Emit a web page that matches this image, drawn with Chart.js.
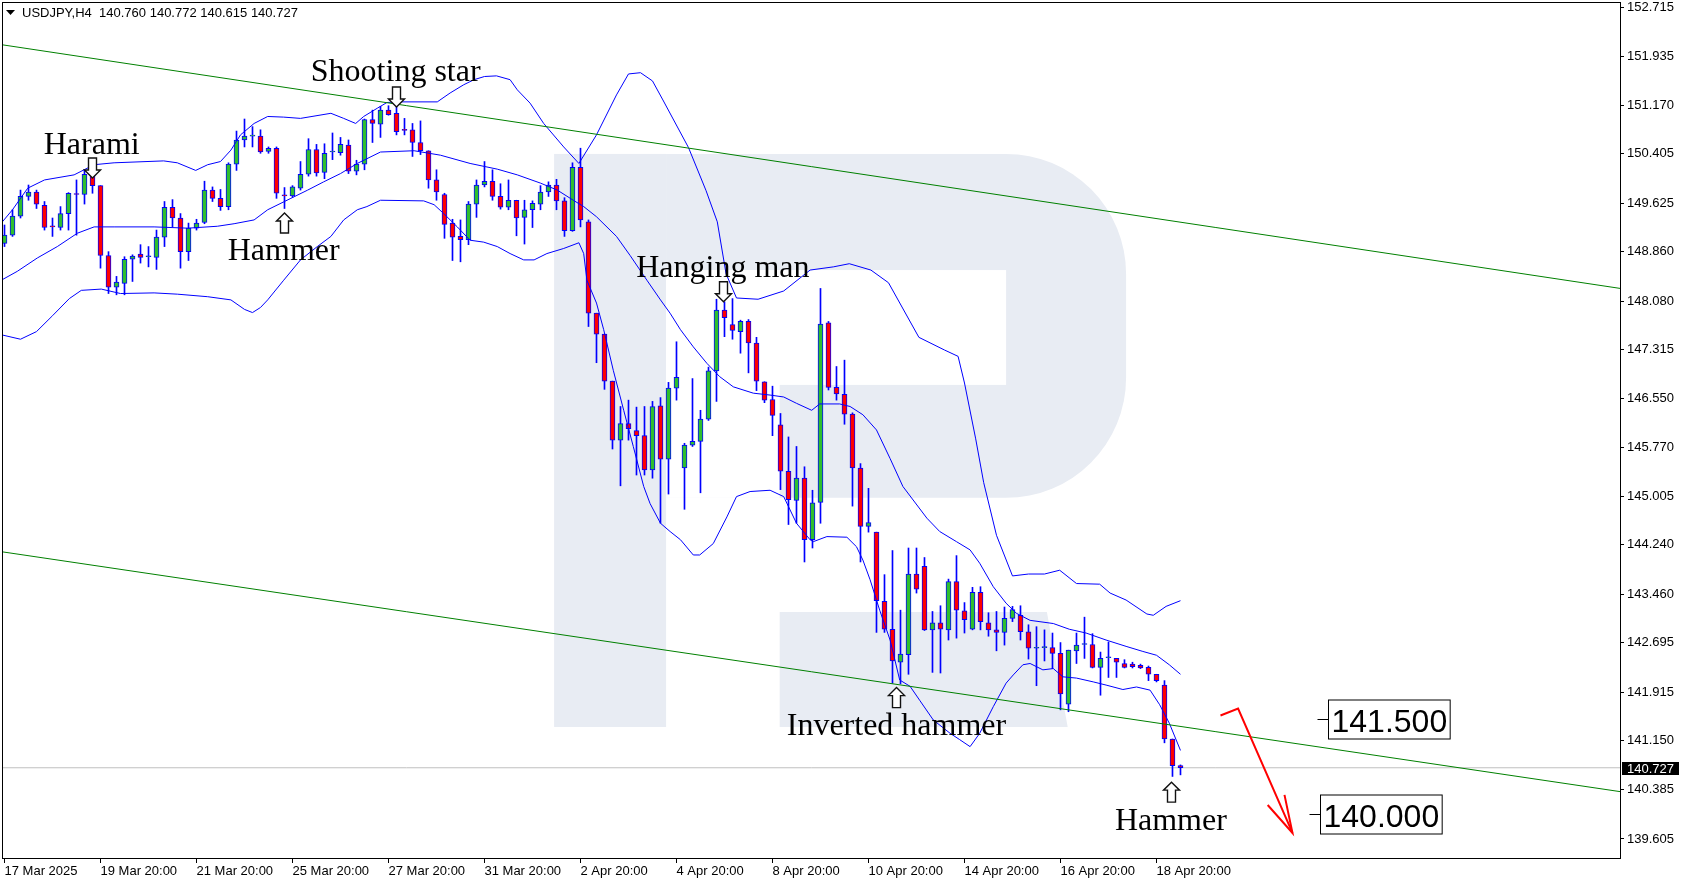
<!DOCTYPE html>
<html>
<head>
<meta charset="utf-8">
<script src="https://cdn.jsdelivr.net/npm/chart.js@4.4.1/dist/chart.umd.min.js"></script>
<style>
  html, body { margin: 0; padding: 0; background: #fff; overflow: hidden; }
  #wrap { width: 1684px; height: 882px; }
</style>
</head>
<body>
<div id="wrap"><canvas id="chart"></canvas></div>
<script>
// USDJPY H4, bar 0 = 17 Mar 20:00, last bar = 21 Apr 08:00
const opens = [
  148.99,149.12,149.42,149.73,149.80,149.59,149.26,149.24,149.46,149.77,
  149.76,150.07,149.90,148.80,148.30,148.36,148.74,148.82,148.78,148.77,
  149.09,149.56,149.39,148.86,149.23,149.32,149.83,149.70,149.57,150.24,
  150.62,150.68,150.68,150.44,150.49,149.75,149.74,149.86,150.08,150.47,
  150.11,150.43,150.42,150.54,150.13,150.24,150.94,150.87,151.09,151.04,
  150.78,150.78,150.58,150.45,149.99,149.76,149.31,149.10,149.05,149.61,
  149.91,149.97,149.73,149.56,149.67,149.40,149.52,149.61,149.80,149.91,
  149.66,149.19,150.19,149.33,147.89,147.56,146.82,145.89,146.15,146.04,
  145.96,145.42,146.43,145.59,146.71,145.45,145.81,145.87,146.22,146.98,
  147.94,147.71,147.60,147.76,147.42,146.81,146.53,146.13,145.40,144.94,
  145.29,144.32,144.91,147.74,146.72,146.61,146.30,145.45,144.53,144.44,
  143.35,142.91,142.39,142.51,143.78,143.90,142.90,143.01,142.90,143.66,
  143.20,142.91,143.49,143.01,142.90,142.86,143.08,143.13,142.87,142.61,
  142.62,142.62,142.53,141.73,142.57,142.67,142.67,142.31,142.46,142.45,
  142.37,142.36,142.34,142.31,142.20,142.03,141.18,140.760
];
const highs = [
  149.28,149.52,149.83,149.91,149.83,149.65,149.39,149.57,149.79,149.99,
  150.15,150.15,149.90,148.86,148.47,148.78,148.81,148.97,148.94,149.20,
  149.65,149.68,149.46,149.31,149.37,149.97,149.88,149.84,150.26,150.76,
  150.95,150.83,150.78,150.51,150.51,149.87,149.90,150.28,150.64,150.55,
  150.56,150.73,150.66,150.62,150.30,150.95,151.09,151.15,151.16,151.18,
  150.96,150.88,150.92,150.45,150.15,149.78,149.37,149.36,149.65,149.99,
  150.28,150.15,149.93,149.99,149.67,149.67,149.66,149.90,149.96,150.00,
  149.71,150.26,150.49,149.36,147.89,147.56,146.82,146.42,146.52,146.41,
  146.42,146.50,146.56,146.80,147.44,145.84,146.86,146.36,147.04,148.11,
  148.07,148.12,147.78,147.79,147.51,146.81,146.74,146.31,145.94,145.79,
  145.47,145.10,148.28,147.76,147.05,147.15,146.32,145.52,145.13,144.44,
  143.77,144.15,143.21,144.19,144.19,144.04,143.19,143.28,143.70,144.07,
  143.33,143.57,143.58,143.17,143.19,143.26,143.27,143.28,142.98,142.95,
  142.90,142.85,142.70,142.58,142.85,143.10,142.84,142.55,142.71,142.45,
  142.43,142.39,142.36,142.33,142.20,142.10,141.18,140.772
];
const lows = [
  148.94,149.10,149.39,149.67,149.54,149.20,149.10,149.20,149.20,149.12,
  149.61,149.78,148.60,148.20,148.18,148.18,148.39,148.68,148.62,148.58,
  148.94,149.25,148.60,148.72,149.20,149.30,149.65,149.51,149.52,150.14,
  150.51,150.51,150.41,150.41,149.70,149.54,149.72,149.83,150.05,150.05,
  150.01,150.31,150.38,150.09,150.07,150.15,150.58,150.66,151.01,150.70,
  150.70,150.36,150.39,149.86,149.67,149.07,148.72,148.70,148.97,149.40,
  149.88,149.67,149.53,149.52,149.11,148.98,149.24,149.52,149.73,149.52,
  149.10,149.18,149.25,147.68,147.11,146.69,145.75,145.17,145.89,145.34,
  145.34,145.29,144.58,145.04,146.52,144.80,145.79,145.06,146.20,146.50,
  147.52,147.48,147.26,146.95,146.67,146.48,145.96,145.11,144.56,144.58,
  143.97,144.19,144.58,146.68,146.52,146.14,144.85,143.97,144.44,142.86,
  142.86,142.06,142.05,142.20,143.48,142.89,142.23,142.22,142.74,142.77,
  142.85,142.90,142.90,142.80,142.57,142.66,143.03,142.74,142.44,142.02,
  142.41,142.29,141.64,141.61,142.37,142.45,142.30,141.87,142.15,142.15,
  142.30,142.30,142.29,142.10,142.08,141.12,140.59,140.615
];
const closes = [
  149.12,149.42,149.73,149.80,149.61,149.24,149.25,149.46,149.78,149.76,
  150.08,149.90,148.80,148.30,148.38,148.74,148.79,148.77,148.78,149.09,
  149.56,149.39,148.86,149.23,149.31,149.83,149.70,149.57,150.24,150.62,
  150.68,150.69,150.43,150.49,149.78,149.74,149.88,150.08,150.47,150.10,
  150.41,150.43,150.55,150.13,150.24,150.94,150.88,151.09,151.02,150.75,
  150.77,150.58,150.45,149.99,149.80,149.29,149.09,149.05,149.61,149.91,
  149.97,149.73,149.56,149.67,149.39,149.52,149.62,149.80,149.91,149.66,
  149.19,150.19,149.36,147.89,147.56,146.82,145.89,146.15,146.07,145.96,
  145.42,146.42,145.59,146.71,146.88,145.81,145.87,146.22,146.98,147.94,
  147.82,147.62,147.76,147.42,146.82,146.52,146.28,145.40,144.95,145.29,
  144.32,144.90,147.72,146.72,146.62,146.30,145.45,144.53,144.59,143.36,
  142.91,142.41,142.52,143.78,143.54,142.90,143.01,142.91,143.66,143.21,
  143.06,143.49,143.03,142.90,142.86,143.08,143.22,142.87,142.61,142.61,
  142.62,142.53,141.89,142.58,142.66,142.68,142.31,142.45,142.46,142.39,
  142.31,142.32,142.30,142.20,142.10,141.18,140.76,140.727
];

const xTickIdx = [0,12,24,36,48,60,72,84,96,108,120,132,144];
const xTickLabels = ['17 Mar 2025','19 Mar 20:00','21 Mar 20:00','25 Mar 20:00','27 Mar 20:00',
  '31 Mar 20:00','2 Apr 20:00','4 Apr 20:00','8 Apr 20:00','10 Apr 20:00','14 Apr 20:00',
  '16 Apr 20:00','18 Apr 20:00'];
const yTicks = [152.715,151.935,151.170,150.405,149.625,148.860,148.080,147.315,146.550,
  145.770,145.005,144.240,143.460,142.695,141.915,141.150,140.385,139.605];

// Bollinger bands as [bar, price]
const bbUpper = [[-0.4,149.31],[1,149.52],[2.9,149.86],[5,149.99],[8.7,150.07],[11.2,150.23],[13.7,150.26],
  [19.9,150.29],[21.6,150.26],[23.9,150.14],[25.4,150.23],[27,150.28],[28.3,150.46],[29.5,150.70],[31.2,150.88],
  [32.9,150.99],[34.9,150.98],[37,150.96],[40.8,151.04],[42.4,150.96],[43.9,150.88],[44.9,150.99],[46.6,151.12],
  [47.8,151.21],[49.1,151.22],[54.1,151.22],[55.7,151.36],[57.4,151.49],[58.7,151.57],[60,151.62],[61.5,151.63],
  [63.2,151.57],[64.1,151.41],[65.7,151.20],[67.4,150.88],[69.9,150.51],[71.8,150.25],[74,150.70],[76.5,151.33],
  [78,151.66],[79.5,151.68],[81,151.55],[82.3,151.25],[85.5,150.50],[87.7,149.82],[89.1,149.33],[90.2,148.51],
  [91.5,148.13],[94.2,148.11],[97.4,148.24],[100.7,148.57],[103.6,148.62],[105.6,148.67],[108.3,148.57],
  [110.5,148.37],[114.3,147.51],[117.5,147.31],[119.2,147.21],[120,146.79],[121.4,145.91],[122.4,145.22],
  [124,144.39],[126,143.75],[128,143.78],[130,143.78],[131.9,143.84],[134,143.63],[136.9,143.62],[138.2,143.48],
  [140.2,143.37],[142.8,143.15],[143.6,143.13],[145.2,143.27],[147,143.36]];
const bbMiddle = [[-0.4,148.41],[1.6,148.55],[4.1,148.76],[6.6,148.94],[9.1,149.15],[11.2,149.25],[13.7,149.25],
  [18.7,149.25],[22.9,149.23],[26.6,149.26],[28.7,149.30],[31.2,149.36],[32.9,149.52],[35.8,149.70],[37.9,149.83],
  [39.9,149.96],[42,150.09],[44.1,150.25],[47,150.43],[51.2,150.45],[54.5,150.38],[58.2,150.25],[61.6,150.16],
  [64.1,150.07],[67,149.94],[69.1,149.83],[71.1,149.67],[72.4,149.57],[74,149.41],[76.5,149.10],[78.2,148.80],
  [80.3,148.41],[82,148.10],[83.2,147.89],[84.5,147.63],[86.1,147.36],[87.8,147.10],[89.4,146.89],[91.1,146.73],
  [93.6,146.63],[95.7,146.60],[97.4,146.57],[99,146.47],[100.9,146.36],[101.9,146.46],[104.4,146.46],
  [105.7,146.42],[107.3,146.29],[109,146.05],[110.7,145.60],[112.3,145.16],[115.3,144.66],[116.9,144.45],
  [119,144.29],[120.7,144.16],[121.9,143.95],[123.6,143.58],[125.2,143.32],[126.5,143.16],[128.2,143.05],
  [131.1,143.00],[133.1,142.91],[135.2,142.85],[137.7,142.74],[140.2,142.64],[142.3,142.56],[144,142.50],
  [145.6,142.35],[147,142.20]];
const bbLower = [[-0.4,147.55],[2,147.48],[4,147.60],[6,147.85],[8.1,148.12],[9.6,148.25],[12.1,148.27],
  [14.5,148.20],[18.7,148.21],[21.6,148.19],[25.4,148.15],[28.3,148.10],[30,147.95],[31,147.90],[32,147.98],
  [32.9,148.10],[34.9,148.41],[37,148.73],[39.1,148.94],[40.8,149.10],[42.4,149.36],[44.1,149.52],[45.3,149.57],
  [47,149.67],[52.4,149.66],[53.7,149.60],[54.9,149.46],[56.6,149.25],[58.2,149.04],[59.9,149.01],[61.6,148.94],
  [63.2,148.83],[64.9,148.73],[66.2,148.73],[67.8,148.83],[69.9,148.91],[71.8,149.00],[72.4,148.83],
  [72.8,148.41],[74,148.05],[74.9,147.63],[76.1,146.99],[77.4,146.36],[78.6,145.79],[79.9,145.16],[80.7,144.89],
  [82,144.58],[83.2,144.45],[84.5,144.32],[86.1,144.08],[86.9,144.08],[88.6,144.26],[90.3,144.68],[91.5,145.00],
  [93.2,145.08],[95.7,145.10],[97.4,145.00],[99,144.58],[100.7,144.32],[101.1,144.29],[102.8,144.37],
  [105.3,144.36],[106.5,144.21],[107.3,144.00],[108.2,143.69],[109.4,143.21],[110.7,142.74],[111.9,142.11],
  [113.2,142.01],[114.4,141.79],[116.1,141.48],[118.2,141.27],[119.4,141.17],[120.7,141.06],[121.9,141.27],
  [123.6,141.69],[125.2,142.06],[126.1,142.19],[127.3,142.35],[128.2,142.37],[129.8,142.27],[131.1,142.29],
  [132.3,142.16],[134,142.14],[136.1,142.08],[137.7,142.03],[139.8,141.96],[141.5,142.00],[143.2,141.95],
  [144.4,141.72],[145.6,141.43],[147,141.00]];

// trend channel, last price, forecast arrow
const channelTop = [[-0.3,152.12],[202,148.28]];
const channelBottom = [[-0.3,144.13],[202,140.35]];
const lastPrice = 140.727;
const forecastPath = [[152.0,141.55],[154.2,141.66],[161.0,139.70]];
const forecastHead = [[157.9,140.14],[161.0,139.70],[160.0,140.30]];

// candle pattern notes: name, bar, text baseline price, arrow tip price, arrow direction
const noteNames = ['Harami','Shooting star','Hammer','Hanging man','Inverted hammer','Hammer'];
const noteBars = [10.9, 48.9, 34.9, 89.8, 111.5, 145.8];
const noteTextY = [150.40, 151.55, 148.73, 148.46, 141.24, 139.75];
const noteTipY = [150.02, 151.14, 149.47, 148.07, 141.99, 140.50];
const noteDir = ['down','down','up','down','up','up'];

// target levels
const levelNames = ['141.500','140.000'];
const levelValues = [141.5, 140.0];
const levelBars = [165.5, 164.4];

const BULL = '#2fbf2f', BEAR = '#ff0000', OUTLINE = '#0000ff';
const toXY = arr => arr.map(p => ({x: p[0], y: p[1]}));

const overlay = {
  id: 'overlay',
  beforeDatasetsDraw(chart) {
    const {ctx, scales: {x, y}} = chart;
    const X = v => x.getPixelForValue(v), Y = v => y.getPixelForValue(v);
    ctx.save();
    ctx.fillStyle = '#e8ecf3';
    // watermark letter
    ctx.fillRect(X(68.7), Y(150.40), X(82.7) - X(68.7), Y(141.37) - Y(150.40));
    ctx.beginPath();
    ctx.roundRect(X(82.7), Y(150.40), X(140.2) - X(82.7), Y(144.98) - Y(150.40), [0, 120, 120, 0]);
    ctx.fill();
    ctx.fillStyle = '#ffffff';
    ctx.fillRect(X(82.7), Y(148.57), X(125.2) - X(82.7), Y(146.76) - Y(148.57));
    ctx.fillRect(X(82.7), Y(148.57), X(96.9) - X(82.7), Y(144.98) - Y(148.57));
    ctx.fillStyle = '#e8ecf3';
    ctx.beginPath();
    ctx.moveTo(X(96.9), Y(143.18));
    ctx.lineTo(X(130.3), Y(143.18));
    ctx.lineTo(X(132.9), Y(141.37));
    ctx.lineTo(X(96.9), Y(141.37));
    ctx.closePath();
    ctx.fill();
    ctx.restore();
  },
  afterDatasetsDraw(chart) {
    const {ctx, scales: {x, y}} = chart;
    const X = v => x.getPixelForValue(v), Y = v => y.getPixelForValue(v);
    ctx.save();
    ctx.font = '32px "Liberation Serif", "Times New Roman", serif';
    ctx.textAlign = 'center';
    ctx.textBaseline = 'alphabetic';
    noteNames.forEach((name, i) => {
      ctx.fillStyle = '#000';
      ctx.fillText(name, X(noteBars[i]), Y(noteTextY[i]));
      // hollow block arrow
      const cx = Math.round(X(noteBars[i])) + 0.5;
      const tip = Y(noteTipY[i]);
      const s = noteDir[i] === 'down' ? 1 : -1;
      const base = tip - s * 20, neck = tip - s * 8;
      ctx.beginPath();
      ctx.moveTo(cx - 4, base);
      ctx.lineTo(cx + 4, base);
      ctx.lineTo(cx + 4, neck);
      ctx.lineTo(cx + 8, neck);
      ctx.lineTo(cx, tip);
      ctx.lineTo(cx - 8, neck);
      ctx.lineTo(cx - 4, neck);
      ctx.closePath();
      ctx.fillStyle = '#fff';
      ctx.fill();
      ctx.strokeStyle = '#111';
      ctx.lineWidth = 1.4;
      ctx.stroke();
    });
    // target level boxes
    ctx.font = '32px "Liberation Sans", Arial, sans-serif';
    ctx.textAlign = 'left';
    levelNames.forEach((name, i) => {
      const py = Math.round(Y(levelValues[i])) + 0.5;
      const bx = Math.round(X(levelBars[i])) + 0.5;
      const w = ctx.measureText(name).width + 6;
      ctx.fillStyle = '#fff';
      ctx.fillRect(bx, py - 19.5, w, 39);
      ctx.strokeStyle = '#000';
      ctx.lineWidth = 1;
      ctx.strokeRect(bx, py - 19.5, w, 39);
      ctx.beginPath();
      ctx.moveTo(bx - 11, py);
      ctx.lineTo(bx, py);
      ctx.stroke();
      ctx.fillStyle = '#000';
      ctx.fillText(name, bx + 3, py + 12);
    });
    ctx.restore();
  },
  afterDraw(chart) {
    const {ctx, chartArea: a, scales: {y}} = chart;
    ctx.save();
    ctx.strokeStyle = '#000';
    ctx.lineWidth = 1;
    ctx.strokeRect(a.left + 0.5, a.top + 0.5, a.right - a.left, a.bottom - a.top);
    // header
    ctx.fillStyle = '#000';
    ctx.beginPath();
    ctx.moveTo(6, 10); ctx.lineTo(15, 10); ctx.lineTo(10.5, 15); ctx.closePath();
    ctx.fill();
    ctx.font = '13px "Liberation Sans", Arial, sans-serif';
    ctx.textBaseline = 'alphabetic';
    ctx.fillText('USDJPY,H4  140.760 140.772 140.615 140.727', 22, 17);
    // last price tag on the axis
    const py = Math.round(y.getPixelForValue(lastPrice));
    ctx.fillRect(a.right + 2, py - 6, 57, 13);
    ctx.fillStyle = '#fff';
    ctx.textBaseline = 'middle';
    ctx.fillText(lastPrice.toFixed(3), a.right + 7, py + 1);
    ctx.restore();
  }
};

const lineDs = (data, color, width, order) => ({
  type: 'line', data: toXY(data), borderColor: color, borderWidth: width,
  pointRadius: 0, tension: 0, fill: false, order: order
});

new Chart(document.getElementById('chart'), {
  type: 'bar',
  data: {
    datasets: [
      lineDs([[-0.3, lastPrice], [202, lastPrice]], '#c0c0c0', 1, 9),
      {
        data: opens.map((o, i) => ({x: i, y: [lows[i], highs[i]]})),
        backgroundColor: OUTLINE, barThickness: 1, grouped: false, order: 8
      },
      {
        data: opens.map((o, i) => ({x: i, y: [o, closes[i]]})),
        backgroundColor: opens.map((o, i) => closes[i] >= o ? BULL : BEAR),
        borderColor: OUTLINE, borderWidth: 1, borderSkipped: false,
        barThickness: 5, minBarLength: 1, grouped: false, order: 7
      },
      lineDs(bbUpper, '#0000ff', 1, 5),
      lineDs(bbMiddle, '#0000ff', 1, 5),
      lineDs(bbLower, '#0000ff', 1, 5),
      lineDs(channelTop, '#008000', 1, 4),
      lineDs(channelBottom, '#008000', 1, 4),
      lineDs(forecastPath, '#ff0000', 2, 1),
      lineDs(forecastHead, '#ff0000', 2, 1)
    ]
  },
  options: {
    responsive: true,
    maintainAspectRatio: false,
    devicePixelRatio: 1,
    animation: false,
    events: [],
    layout: { padding: { left: 2, top: 2, right: 0, bottom: 0 } },
    plugins: { legend: { display: false }, tooltip: { enabled: false } },
    scales: {
      x: {
        type: 'linear',
        min: -0.3125,
        max: 201.94,
        offset: false,
        afterFit: s => { s.height = 24; s.paddingLeft = 0; s.paddingRight = 0; },
        afterBuildTicks: s => { s.ticks = xTickIdx.map(v => ({value: v})); },
        border: { display: false },
        grid: { drawOnChartArea: false, drawTicks: true, tickLength: 5, color: '#000', offset: false },
        ticks: {
          autoSkip: false, maxRotation: 0, align: 'start', padding: 1, color: '#000',
          font: { family: 'Liberation Sans', size: 13 },
          callback: (v, i) => xTickLabels[i]
        }
      },
      y: {
        type: 'linear',
        position: 'right',
        min: 139.305,
        max: 152.794,
        afterFit: s => { s.width = 64; s.paddingTop = 0; s.paddingBottom = 0; },
        afterBuildTicks: s => { s.ticks = yTicks.map(v => ({value: v})); },
        border: { display: false },
        grid: { drawOnChartArea: false, drawTicks: true, tickLength: 4, color: '#000' },
        ticks: {
          autoSkip: false, padding: 3, color: '#000',
          font: { family: 'Liberation Sans', size: 13 },
          callback: v => v.toFixed(3)
        }
      }
    }
  },
  plugins: [overlay]
});
</script>
</body>
</html>
